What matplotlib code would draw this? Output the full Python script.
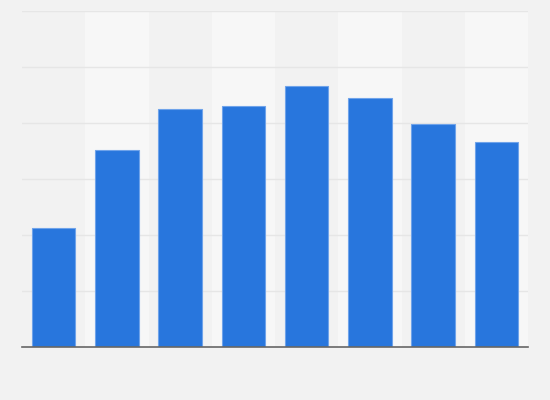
import matplotlib
matplotlib.use("Agg")
import matplotlib.pyplot as plt
import numpy as np

categories = ["1", "2", "3", "4", "5", "6", "7", "8"]
values = [21.2, 35.1, 42.4, 42.9, 46.6, 44.4, 39.7, 36.6]
y_ticks = [0, 10, 20, 30, 40, 50, 60]

fig = plt.figure(figsize=(5.5, 4.0), dpi=100, facecolor="#f2f2f2")
ax = fig.add_axes([22/550, 1 - 346.5/400, 506/550, 336/400])
ax.set_facecolor("#f2f2f2")

x = np.arange(len(categories))
for i in x:
    if i % 2 == 1:
        ax.axvspan(i - 0.5, i + 0.5, color="#f7f7f7", zorder=0, lw=0)

for t in y_ticks[1:]:
    ax.axhline(t, color="#e6e6e6", lw=1, zorder=1)

ax.bar(x, values, width=0.69, color="#2876dd", edgecolor="#6fa3ea", linewidth=0.8, zorder=2)

ax.set_xlim(-0.5, len(categories) - 0.5)
ax.set_ylim(0, 60)
ax.set_xticks([])
ax.set_yticks([])
for s in ["top", "right", "left"]:
    ax.spines[s].set_visible(False)
ax.spines["bottom"].set_color("#666666")
ax.spines["bottom"].set_linewidth(1.2)
ax.spines["bottom"].set_zorder(3)

fig.savefig("out.png", dpi=100, facecolor=fig.get_facecolor())
